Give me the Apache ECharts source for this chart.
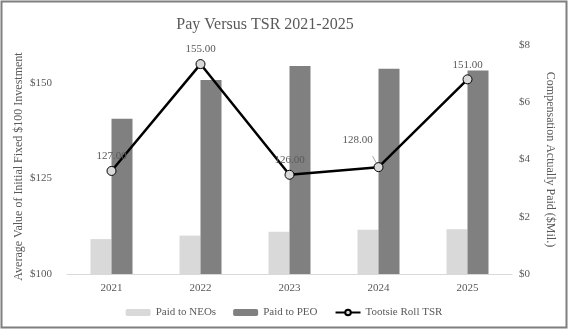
<!DOCTYPE html>
<html><head><meta charset="utf-8">
<script src="https://cdn.jsdelivr.net/npm/echarts@6/dist/echarts.min.js"></script>
<style>html,body{margin:0;padding:0;background:#fff}#c{width:568px;height:331px}</style>
</head><body><div id="c"></div>
<script>
const years = ['2021','2022','2023','2024','2025'];
const paidNEOs = [1.22, 1.34, 1.48, 1.55, 1.56];
const paidPEO = [5.42, 6.78, 7.27, 7.17, 7.11];
const tsr = [127, 155, 126, 128, 151];
const leftTicks = [100, 125, 150];
const rightTicks = [0, 2, 4, 6, 8];

const FONT = 'Liberation Serif';
const TXT = '#595959';
const chart = echarts.init(document.getElementById('c'), null, {renderer:'canvas'});
chart.setOption({
  animation: false,
  textStyle: {fontFamily: FONT, color: TXT},
  graphic: [{type:'rect', shape:{x:1.5,y:1.5,width:565,height:326}, style:{fill:'none', stroke:'#7f7f7f', lineWidth:2}, z:-1}],
  title: {text:'Pay Versus TSR 2021-2025', left:260, top:12, textAlign:'center',
    textStyle:{fontFamily:FONT, fontSize:16, fontWeight:'normal', color:TXT}},
  grid: {left:67, right:56, top:45, bottom:57},
  legend: {bottom:8, left:'center', itemWidth:25, itemHeight:7, itemGap:17,
    textStyle:{fontFamily:FONT, fontSize:11, color:TXT},
    data:['Paid to NEOs','Paid to PEO','Tootsie Roll TSR']},
  xAxis: {type:'category', data:years,
    axisLine:{lineStyle:{color:'#d9d9d9', width:1}}, axisTick:{show:false},
    axisLabel:{fontFamily:FONT, fontSize:11, color:TXT, margin:9}},
  yAxis: [
    {type:'value', min:leftTicks[0], max:160, interval:leftTicks[1]-leftTicks[0],
     name:'Average Value of Initial Fixed $100 Investment', nameLocation:'middle', nameGap:42,
     nameMoveOverlap:false,
     nameTextStyle:{fontFamily:FONT, fontSize:12, color:TXT, padding:[0,0,0,-14]},
     splitLine:{show:false}, axisLine:{show:false}, axisTick:{show:false},
     axisLabel:{fontFamily:FONT, fontSize:11, color:TXT, margin:15, showMaxLabel:false,
       formatter: v => leftTicks.includes(v) ? '$' + v : ''}},
    {type:'value', min:rightTicks[0], max:rightTicks[rightTicks.length-1], interval:rightTicks[1]-rightTicks[0],
     name:'Compensation Actually Paid ($Mil.)', nameLocation:'middle', nameGap:32, nameRotate:-90,
     nameMoveOverlap:false,
     nameTextStyle:{fontFamily:FONT, fontSize:12, color:TXT},
     splitLine:{show:false}, axisLine:{show:false}, axisTick:{show:false},
     axisLabel:{fontFamily:FONT, fontSize:11, color:TXT, margin:7, formatter: v => '$' + v}}
  ],
  series: [
    {name:'Paid to NEOs', type:'bar', yAxisIndex:1, data:paidNEOs, barWidth:21, barGap:'0%',
     itemStyle:{color:'#d9d9d9'}},
    {name:'Paid to PEO', type:'bar', yAxisIndex:1, data:paidPEO, barWidth:21, barGap:'0%',
     itemStyle:{color:'#808080'}},
    {name:'Tootsie Roll TSR', type:'line', yAxisIndex:0, z:5,
     data: tsr.map((v,i) => i===3 ? {value:v, label:{offset:[-21,-13]}, labelLine:{show:true}} : v),
     lineStyle:{color:'#000', width:2.5}, itemStyle:{color:'#d9d9d9', borderColor:'#000', borderWidth:1},
     symbol:'circle', symbolSize:9, showAllSymbol:true,
     label:{show:true, position:'top', distance:4, fontFamily:FONT, fontSize:11, color:TXT,
       formatter: p => p.value.toFixed(2)},
     labelLine:{show:true, minTurnAngle:180, lineStyle:{color:'#a6a6a6', width:1}}}
  ]
});
</script></body></html>
